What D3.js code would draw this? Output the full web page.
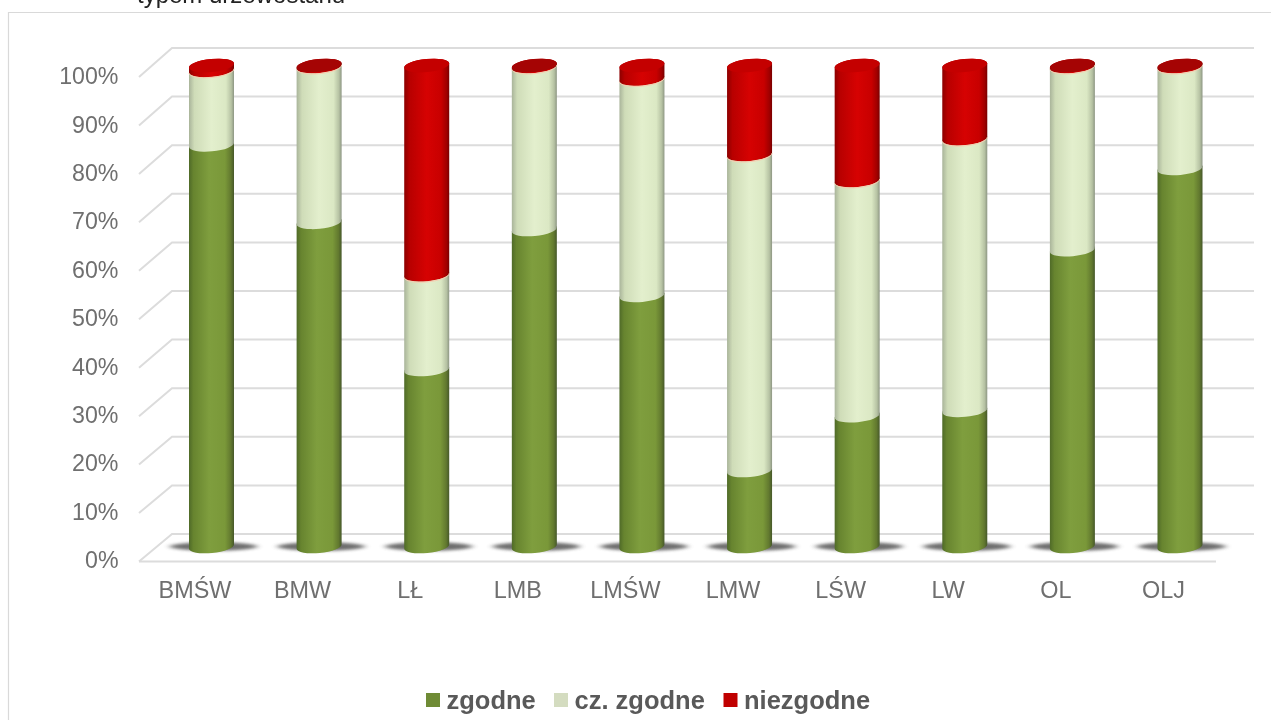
<!DOCTYPE html>
<html><head><meta charset="utf-8">
<script src="https://cdn.jsdelivr.net/npm/d3@7"></script>
<style>
html,body{margin:0;padding:0;background:#fff;overflow:hidden}
svg{display:block;filter:blur(0.45px)}
text{font-family:"Liberation Sans",Arial,sans-serif}
</style></head><body>
<svg id="c" width="1271" height="720"></svg>
<script>
const categories = ["BMŚW","BMW","LŁ","LMB","LMŚW","LMW","LŚW","LW","OL","OLJ"];
const zgodne    = [83.5,67.4,36.8,65.9,52.2,15.8,27.2,28.3,61.7,78.6];
const czZgodne  = [15.5,32.4,19.7,33.9,45.0,65.7,48.9,56.5,38.1,21.2];
const niezgodne = [ 1.0, 0.2,43.5, 0.2, 2.8,18.5,23.9,15.2, 0.2, 0.2];
const seriesNames = ["zgodne","cz. zgodne","niezgodne"];
const tickValues = [0,10,20,30,40,50,60,70,80,90,100];
const titleText = "typem drzewostanu";

const svg = d3.select("#c");
const rx = 22.5, ry = 6.5, tilt = 2.2;

const rows = categories.map((c,i)=>({cat:c,zgodne:zgodne[i],"cz. zgodne":czZgodne[i],niezgodne:niezgodne[i]}));
const stacked = d3.stack().keys(seriesNames)(rows);

const x = d3.scalePoint().domain(categories).range([211.5,1180]);
const y = d3.scaleLinear().domain([0,100]).range([546.5,65.5]);
const yBack = d3.scaleLinear().domain([0,100]).range([534,48]);
const yFront = d3.scaleLinear().domain([0,100]).range([561.5,77]);
const yLabel = d3.scaleLinear().domain([0,100]).range([560,76]);

// defs
const defs = svg.append("defs");
function grad(id, stops){
  const g = defs.append("linearGradient").attr("id",id).attr("x1","0").attr("x2","1").attr("y1","0").attr("y2","0");
  stops.forEach(s=>g.append("stop").attr("offset",s[0]).attr("stop-color",s[1]));
}
grad("g0",[[0,"#4f6a28"],[0.1,"#67842f"],[0.45,"#7f9e3e"],[0.8,"#7a9839"],[0.93,"#62792f"],[1,"#46582a"]]);
grad("g1",[[0,"#a9b49a"],[0.12,"#cfdcb8"],[0.5,"#e3efcd"],[0.82,"#dbe8c4"],[0.94,"#b6c2a3"],[1,"#8d9683"]]);
grad("g2",[[0,"#8c0000"],[0.12,"#b80000"],[0.5,"#d60202"],[0.82,"#c80000"],[0.94,"#a00000"],[1,"#780000"]]);
grad("sw0",[[0,"#5e7a2c"],[0.5,"#8aa646"],[1,"#5e7a2c"]]);
defs.append("filter").attr("id","sh").attr("x","-30%").attr("y","-100%").attr("width","160%").attr("height","300%")
  .append("feGaussianBlur").attr("stdDeviation","3 1.6");

// frame (top + left only)
svg.append("path").attr("d","M8.5,720V12.5H1271").attr("fill","none").attr("stroke","#d9d9d9").attr("stroke-width",1.2);

// clipped title
svg.append("text").attr("x",137).attr("y",2.5).attr("font-size",24).attr("fill","#222").text(titleText);

// grid
const grid = svg.append("g").attr("fill","none").attr("stroke","#dcdcdc").attr("stroke-width",2);
grid.selectAll("path.back").data(tickValues).join("path").attr("class","back")
  .attr("d",d=>`M${139},${yFront(d)}L${172},${yBack(d)}H1254`);
grid.append("path").attr("d",`M139,${yFront(0)}H1216`);

// shadows
svg.append("g").selectAll("ellipse").data(categories).join("ellipse")
  .attr("cx",d=>x(d)+2).attr("cy",y(0)).attr("rx",44).attr("ry",4.2)
  .attr("fill","#555").attr("opacity",0.85).attr("filter","url(#sh)");

// cylinders
const rot = -Math.atan2(tilt,rx)*180/Math.PI;
const R = Math.hypot(rx,tilt);
function side(cx,yb,yt){
  const a = y(yb), b = y(yt);
  return `M${cx-rx},${b+tilt}L${cx-rx},${a+tilt}`+
    `A${R},${ry} ${rot} 0 0 ${cx+rx},${a-tilt}`+
    `L${cx+rx},${b-tilt}`+
    `A${R},${ry} ${rot} 0 0 ${cx-rx},${b+tilt}Z`;
}
const cols = svg.append("g");
stacked.forEach((s,si)=>{
  const g = cols.append("g").attr("fill",`url(#g${si})`);
  g.selectAll("path").data(s).join("path")
    .attr("d",d=>side(x(d.data.cat),d[0],d[1]));
});
// pale rim where red meets cream
cols.append("g").selectAll("path").data(stacked[2]).join("path")
  .attr("fill","none").attr("stroke","#f6cdb0").attr("stroke-width",1)
  .attr("d",d=>{const cx=x(d.data.cat),a=y(d[0])+0.7;
    return `M${cx-rx},${a+tilt}A${R},${ry} ${rot} 0 0 ${cx+rx},${a-tilt}`;});
// top caps
cols.append("g").selectAll("path").data(stacked[2]).join("path")
  .attr("fill",d=>(d[1]-d[0])<0.5?"#a50404":"#c40000")
  .attr("d",d=>{const cx=x(d.data.cat),b=y(d[1]);
    return `M${cx-rx},${b+tilt}A${R},${ry} ${rot} 1 0 ${cx+rx},${b-tilt}A${R},${ry} ${rot} 1 0 ${cx-rx},${b+tilt}Z`;});

// axis labels
svg.append("g").attr("text-anchor","end").attr("font-size",23.2).attr("fill","#6f6f6f")
  .selectAll("text").data(tickValues).join("text")
  .attr("x",118.5).attr("y",d=>yLabel(d)).attr("dy","0.35em").text(d=>d+"%");
svg.append("g").attr("text-anchor","middle").attr("font-size",23.4).attr("fill","#6f6f6f")
  .selectAll("text").data(categories).join("text")
  .attr("x",d=>x(d)-16.5+(categories.indexOf(d)<2?0:0)).attr("y",590).attr("dy","0.35em").text(d=>d);

// legend
const legendX = d3.scaleOrdinal().domain(seriesNames).range([426,554,723.5]);
const legendColors = d3.scaleOrdinal().domain(seriesNames).range(["#6f8b35","#d4dcc0","#c00000"]);
const lg = svg.append("g");
lg.selectAll("rect").data(seriesNames).join("rect")
  .attr("x",d=>legendX(d)).attr("y",693).attr("width",14).attr("height",14)
  .attr("fill",d=>legendColors(d));
lg.selectAll("text").data(seriesNames).join("text")
  .attr("x",d=>legendX(d)+20.5).attr("y",700).attr("dy","0.35em")
  .attr("font-size",25.5).attr("font-weight","bold").attr("fill","#595959").text(d=>d);
</script>
</body></html>
